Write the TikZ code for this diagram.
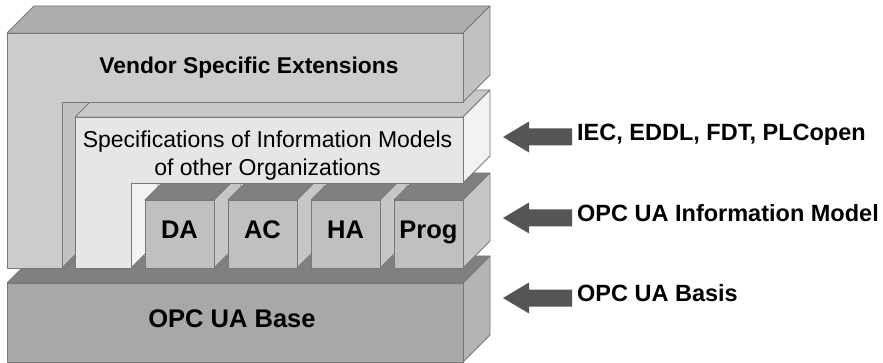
\documentclass[tikz,border=0pt]{standalone}
\usepackage{fontspec}
\setmainfont{Liberation Sans}

\definecolor{edgegray}{HTML}{787878}
\definecolor{vendorfront}{HTML}{CCCCCC}
\definecolor{vendortop}{HTML}{AEAEAE}
\definecolor{vendorside}{HTML}{C2C2C2}
\definecolor{specfront}{HTML}{E6E6E6}
\definecolor{spectop}{HTML}{C8C8C8}
\definecolor{specside}{HTML}{F2F2F2}
\definecolor{cubefront}{HTML}{C0C0C0}
\definecolor{cubetop}{HTML}{808080}
\definecolor{cubeside}{HTML}{C6C6C6}
\definecolor{basefront}{HTML}{A8A8A8}
\definecolor{basetop}{HTML}{808080}
\definecolor{baseside}{HTML}{B4B4B4}
\definecolor{arrowgray}{HTML}{555555}

\tikzstyle{face}=[draw=edgegray, line width=0.8pt, line join=round]
\tikzstyle{lbl}=[inner sep=0pt, text height=0.716em, text depth=0pt]
\tikzstyle{blocklabel}=[lbl, font=\fontsize{25.5}{30}\selectfont\bfseries]
\tikzstyle{vendorlabel}=[lbl, font=\fontsize{22.8}{27}\selectfont\bfseries]
\tikzstyle{sidelabel}=[lbl, anchor=west, font=\fontsize{23.5}{28}\selectfont\bfseries]
\tikzstyle{speclabel}=[inner sep=0pt, align=center, font=\fontsize{23}{28}\selectfont]

\begin{document}
\begin{tikzpicture}[x=1pt, y=-1pt]
    \useasboundingbox (0,0) rectangle (883,363);

    \path[face, fill=basetop] (7,283) -- (34,256) -- (490,256) -- (463,283) -- cycle;
    \path[face, fill=baseside] (463,283) -- (490,256) -- (490,335) -- (463,362) -- cycle;
    \path[face, fill=basefront] (7,283) rectangle (463,362);

    \path[face, fill=vendorside] (62,102) -- (89,75) -- (89,241) -- (62,268) -- cycle;
    \path[face, fill=specside] (131,183) -- (158,156) -- (158,241) -- (131,268) -- cycle;

    \foreach \x in {145, 228, 311, 394}
    {
      \path[face, fill=cubetop] (\x,200) -- (\x+27,173) -- (\x+96,173) -- (\x+69,200) -- cycle;
      \path[face, fill=cubeside] (\x+69,200) -- (\x+96,173) -- (\x+96,241) -- (\x+69,268) -- cycle;
      \path[face, fill=cubefront] (\x,200) rectangle (\x+69,268);
    }

    \path[face, fill=spectop] (75,117) -- (102,90) -- (490,90) -- (463,117) -- cycle;
    \path[face, fill=specside] (463,117) -- (490,90) -- (490,156) -- (463,183) -- cycle;
    \path[face, fill=specfront] (75,117) -- (463,117) -- (463,183) -- (131,183)
          -- (131,268) -- (75,268) -- cycle;

    \path[face, fill=vendortop] (7,33) -- (34,6) -- (490,6) -- (463,33) -- cycle;
    \path[face, fill=vendorside] (463,33) -- (490,6) -- (490,75) -- (463,102) -- cycle;
    \path[face, fill=vendorfront] (7,33) -- (463,33) -- (463,102) -- (62,102)
          -- (62,268) -- (7,268) -- cycle;

    \path (249,69.5) node[vendorlabel] (vendor) {Vendor Specific Extensions};
    \path (267.5,156) node[speclabel] (spec) {Specifications of Information Models\\of other Organizations};
    \path (232,324) node[blocklabel] (base) {OPC UA Base};

    \foreach \x/\n/\t in {145/da/DA, 228/ac/AC, 311/ha/HA, 394/prog/Prog}
    {
      \path (\x+34.5,234.5) node[blocklabel] (\n) {\t};
    }

    \foreach \y/\n/\t in {137/iec/{IEC, EDDL, FDT, PLCopen}, 218/infomodel/{OPC UA Information Model}, 298/basis/{OPC UA Basis}}
    {
      \fill[arrowgray] (572,\y-8.5) -- (529,\y-8.5) -- (529,\y-15.5) -- (503,\y)
            -- (529,\y+15.5) -- (529,\y+8.5) -- (572,\y+8.5) -- cycle;
      \path (577,\y) node[sidelabel] (\n) {\t};
    }
\end{tikzpicture}
\end{document}
